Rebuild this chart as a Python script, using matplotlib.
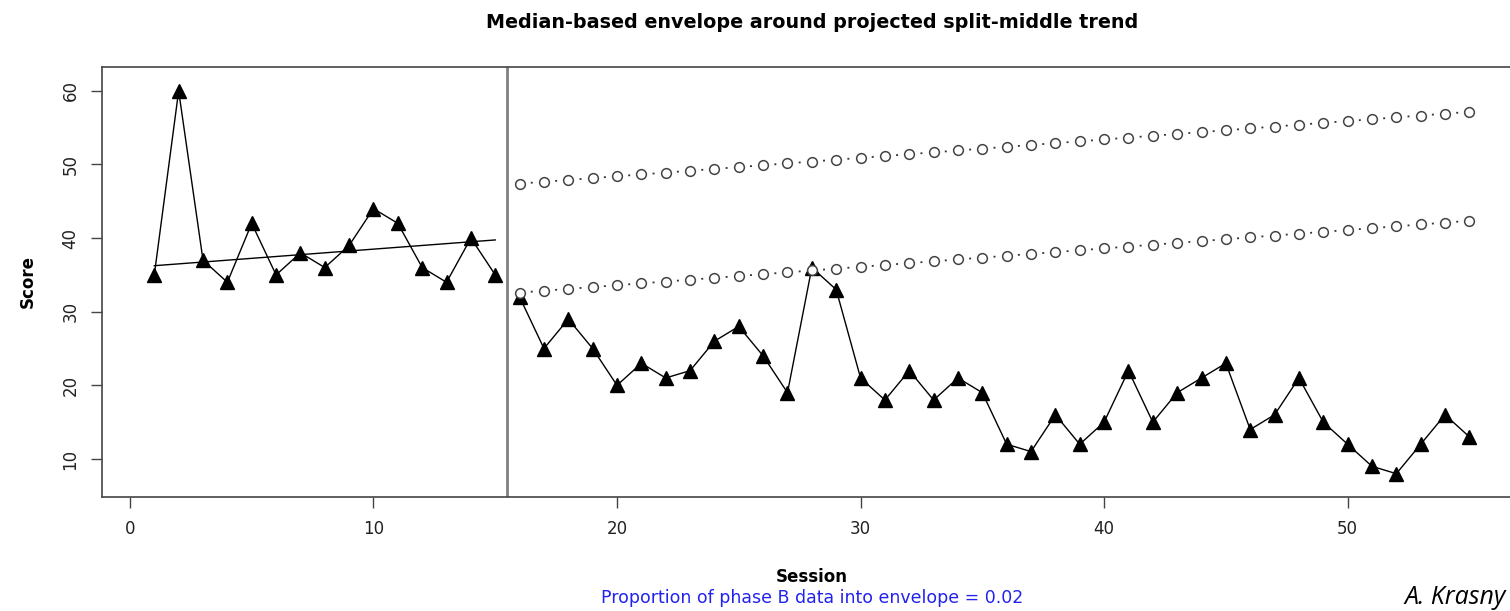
import numpy as np
import matplotlib.pyplot as plt

# datos
sessions_a = list(range(1, 16))
scores_a = [35, 60, 37, 34, 42, 35, 38, 36, 39, 44, 42, 36, 34, 40, 35]

sessions_b = list(range(16, 56))
scores_b = [32, 25, 29, 25, 20, 23, 21, 22, 26, 28, 24, 19, 36, 33, 21,
            18, 22, 18, 21, 19, 12, 11, 16, 12, 15, 22, 15, 19, 21, 23,
            14, 16, 21, 15, 12, 9, 8, 12, 16, 13]

envelope_pct = 0.20  # 20% de la mediana de la fase A
phase_change = 15.5

title = "Median-based envelope around projected split-middle trend"
xlabel = "Session"
ylabel = "Score"
note = "Proportion of phase B data into envelope = 0.02"
author = "A. Krasny"

x_ticks = [0, 10, 20, 30, 40, 50]
y_ticks = [10, 20, 30, 40, 50, 60]

# split-middle trend de la fase A
xa = np.array(sessions_a, dtype=float)
ya = np.array(scores_a, dtype=float)
half = len(xa) // 2
x1, y1 = np.median(xa[:half]), np.median(ya[:half])
x2, y2 = np.median(xa[-half:]), np.median(ya[-half:])
slope = (y2 - y1) / (x2 - x1)
intercept = y1 - slope * x1
trend_a = intercept + slope * xa

xb = np.array(sessions_b, dtype=float)
trend_b = intercept + slope * xb
width = envelope_pct * np.median(ya)
upper = trend_b + width
lower = trend_b - width

plt.rcParams['lines.scale_dashes'] = False

W, H = 1510, 611
fig = plt.figure(figsize=(W / 100, H / 100), dpi=100)
left, right, top, bottom = 101.7, 1522, 67.3, 496.5
ax = fig.add_axes([left / W, 1 - bottom / H, (right - left) / W, (bottom - top) / H])
ax.set_xlim(-1.16, 57.16)
ax.set_ylim(4.9, 63.2)

ax.axvline(phase_change, color='#808080', lw=2)

ax.plot(xa, trend_a, color='black', lw=1)
ax.plot(xa, ya, color='black', lw=1, marker='^', ms=10, mfc='black', mec='black')
ax.plot(xb, scores_b, color='black', lw=1, marker='^', ms=10, mfc='black', mec='black')

# patron punteado: un punto entre cada par de circulos
p = ax.transData.transform(np.column_stack([xb[:2], upper[:2]]))
seg = np.hypot(*(p[1] - p[0])) * 72 / fig.dpi
on = 1.4
dash = (seg / 2 + on / 2, (on, seg - on))
for env in (upper, lower):
    ax.plot(xb, env, color='#333333', lw=1.3, linestyle=dash,
            marker='o', ms=7, mfc='white', mec='#444444', mew=1.1)

for s in ax.spines.values():
    s.set_color('#444444')
    s.set_linewidth(1.2)

ax.set_xticks(x_ticks)
ax.set_yticks(y_ticks)
ax.tick_params(axis='both', length=8, width=1, color='#444444', labelsize=12,
               labelcolor='#222222')
ax.tick_params(axis='x', pad=9)
ax.tick_params(axis='y', pad=8)
for lab in ax.get_yticklabels():
    lab.set_rotation(90)
    lab.set_va('center')

cx = (left + right) / 2 / W
fig.text(cx, 1 - 22 / H, title, ha='center', va='center', fontsize=13.8, fontweight='bold')
fig.text(cx, 1 - 577 / H, xlabel, ha='center', va='center', fontsize=12, fontweight='bold')
fig.text(cx, 1 - 598 / H, note, ha='center', va='center', fontsize=12.5, color='#2222ee')
fig.text(28 / W, 1 - 282 / H, ylabel, ha='center', va='center', rotation=90,
         fontsize=12, fontweight='bold')
fig.text(1 - 4 / W, 1 - 597 / H, author, ha='right', va='center', fontsize=18,
         fontstyle='italic', family='Open Sans')

fig.savefig('out.png', dpi=100)
